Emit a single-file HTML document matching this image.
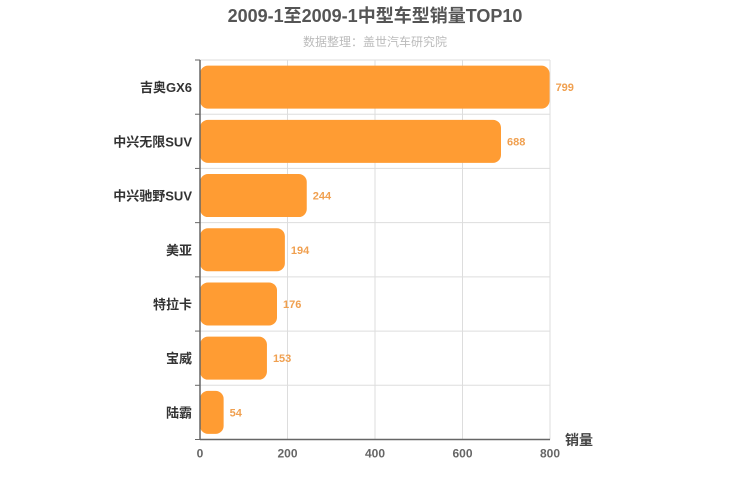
<!DOCTYPE html>
<html><head><meta charset="utf-8"><style>
body{margin:0;background:#fff;}
svg{display:block;font-family:"Liberation Sans","Noto Sans CJK SC",sans-serif;}
</style></head><body>
<svg id="c" width="750" height="500">
<text x="375" y="22" text-anchor="middle" font-size="18" font-weight="bold" fill="#555">2009-1至2009-1中型车型销量TOP10</text>
<text x="375" y="46" text-anchor="middle" font-size="12" fill="#bbb">数据整理：盖世汽车研究院</text>
<g id="grid"></g><g id="bars"></g><g id="axes"></g>
</svg>
<script>
const categories=["吉奥GX6","中兴无限SUV","中兴驰野SUV","美亚","特拉卡","宝威","陆霸"];
const values=[799,688,244,194,176,153,54];
const ticks=[0,200,400,600,800];
const NS="http://www.w3.org/2000/svg";
const x0=200,x1=550,yTop=60,yBot=439.5,max=800;
const xs=v=>x0+(v/max)*(x1-x0);
const band=(yBot-yTop)/categories.length;
function mk(t,a,p){const e=document.createElementNS(NS,t);for(const k in a)e.setAttribute(k,a[k]);p.appendChild(e);return e;}
const grid=document.getElementById('grid'),bars=document.getElementById('bars'),axes=document.getElementById('axes');
ticks.forEach(t=>{
 const l=mk('line',{x1:xs(t),x2:xs(t),y1:yTop,y2:yBot,stroke:'#ddd'},grid);
 
 
 const tx=mk('text',{x:xs(t),y:yBot+18,'text-anchor':'middle','font-size':12,'font-weight':'bold',fill:'#666'},axes);
 tx.textContent=t;
 
 
});
for(let i=0;i<=categories.length;i++){
 const y=yTop+i*band;
 const l=mk('line',{x1:x0,x2:x1,y1:y,y2:y,stroke:'#ddd'},grid);
 
 
 const tk=mk('line',{x1:x0-5,x2:x0,y1:y,y2:y,stroke:'#666'},axes);
 
 
}
categories.forEach((c,i)=>{
 const yc=yTop+band*(i+0.5);
 const r=mk('rect',{x:x0,y:yc-21.5,width:xs(values[i])-x0,height:43,rx:8,fill:'#ff9c33'},bars);
 
 
 const v=mk('text',{x:xs(values[i])+6,y:yc+4,'font-size':11,'font-weight':'bold',fill:'#f0a050'},bars);
 v.textContent=values[i];
 
 
 const lb=mk('text',{x:x0-8,y:yc+5,'text-anchor':'end','font-size':13,'font-weight':'bold',fill:'#333'},axes);
 lb.textContent=c;
 
 
});
const ya=mk('line',{x1:x0,x2:x0,y1:yTop,y2:yBot,stroke:'#666','stroke-width':1.5},axes);


const xa=mk('line',{x1:x0,x2:x1,y1:yBot,y2:yBot,stroke:'#666','stroke-width':1.5},axes);


const xt=mk('text',{x:565,y:445,'font-size':14,'font-weight':'bold',fill:'#444'},axes);
xt.textContent='销量';


</script>
</body></html>
